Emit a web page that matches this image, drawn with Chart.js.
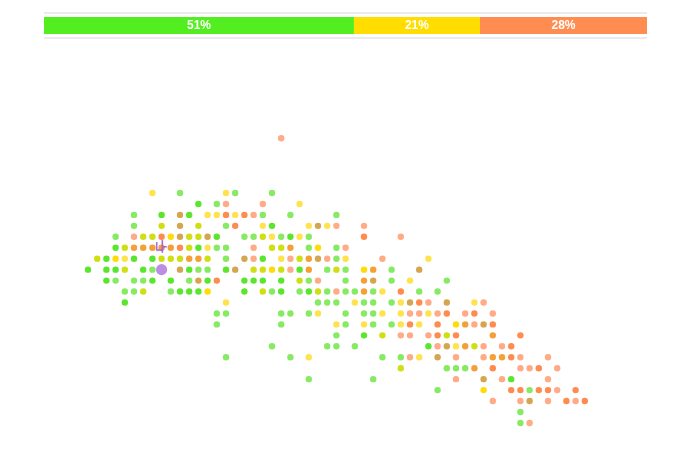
<!DOCTYPE html>
<html>
<head>
<meta charset="utf-8">
<script src="https://cdn.jsdelivr.net/npm/chart.js@4/dist/chart.umd.min.js"></script>
<style>
  html, body { margin: 0; padding: 0; background: #fff; }
  #wrap { position: relative; width: 673px; height: 454px; overflow: hidden; }
  #dots  { position: absolute; left: 0; top: 0; }
  #share { position: absolute; left: 44px; top: 10px; }
</style>
</head>
<body>
<div id="wrap">
  <canvas id="dots" width="673" height="454"></canvas>
  <canvas id="share" width="603" height="31"></canvas>
</div>
<script>
// ── DATA ────────────────────────────────────────────────────────────────────

// top share bar
const shareValues = [51.4, 20.9, 27.7];
const shareColors = ['#52ee1f', '#ffdd00', '#ff8c50'];

// dot grid: [row, [columns]] — row 0 is the top row of the main cluster
const brightGreen = [
  [1, [12]], [2, [8, 11]], [3, [20]], [4, [14, 22]], [5, [3, 12]], [6, [2, 5, 7, 19]],
  [7, [0, 2, 3, 6, 11, 15, 23]], [8, [2, 7, 9, 13, 17, 18, 19, 21]],
  [9, [10, 11, 12, 17, 21, 24]], [10, [4]], [13, [30]], [14, [37]], [17, [46]],
];
const lightGreen = [
  [0, [10, 16, 20]], [1, [14]], [2, [5, 19, 22, 27]], [3, [5, 15]], [4, [3, 17, 18, 21, 24]],
  [5, [14, 15, 24, 27]], [6, [15, 27]], [7, [7, 12, 13, 26, 28, 33]],
  [8, [3, 5, 6, 11, 24, 28, 33, 39]], [9, [4, 5, 9, 20, 23, 26, 28, 29, 31, 36, 38]],
  [10, [25, 26, 27, 30, 31, 33]], [11, [14, 15, 21, 22, 24, 28, 30, 31]],
  [12, [14, 21, 28, 31, 33]], [13, [27]], [14, [20, 26, 27, 29]], [15, [15, 22, 32, 34]],
  [16, [39, 40, 41]], [17, [24, 31]], [18, [38, 48]], [20, [47]], [21, [47]],
];
const brightYellow = [
  [4, [9]], [5, [25]], [6, [3]], [7, [20, 30]], [9, [13]], [12, [40]], [18, [43]],
];
const lightYellow = [
  [0, [7, 15]], [1, [23]], [2, [13, 14, 16]], [3, [19, 24, 26]], [4, [20, 23]], [5, [13]],
  [6, [4, 21, 28, 37]], [8, [35]], [9, [32]], [10, [15, 29, 34, 42]], [11, [25, 32, 34, 37]],
  [12, [27, 30, 34, 36]], [14, [40]], [15, [24, 36]],
];
const yellowGreen = [
  [3, [8, 12]], [4, [6, 7, 11, 12, 19]], [5, [4, 11, 20, 21]], [6, [1, 8, 9, 10, 13, 23]],
  [7, [4, 18, 19, 21, 27]], [8, [23]], [9, [6, 19, 25]], [13, [32, 39]], [14, [42]], [16, [34]],
];
const tan = [
  [2, [10]], [3, [10, 25]], [4, [10, 13]], [6, [17, 25]], [7, [10, 16, 36]], [8, [12, 31]],
  [10, [35, 39]], [12, [43]], [14, [39]], [15, [38]], [17, [43]], [19, [48]],
];
const brightOrange = [
  [2, [15, 17]], [3, [16]], [4, [8, 30]], [5, [10]], [8, [14]], [9, [34]], [10, [36]],
  [11, [39, 42]], [12, [35, 38, 44]], [13, [38, 40, 47]], [14, [46]], [15, [46]],
  [16, [44, 49]], [18, [46, 47, 49, 50, 53]], [19, [52, 54]],
];
const salmon = [
  [-5, [21]], [1, [15, 19]], [2, [18]], [3, [27, 30]], [4, [5, 34]], [5, [18, 28]],
  [6, [18, 22, 26, 32]], [7, [22]], [8, [25]], [9, [27]], [10, [37, 43]],
  [11, [35, 36, 38, 41, 44]], [12, [42]], [13, [34, 35, 37]], [14, [38, 43, 45]],
  [15, [35, 40, 43, 47, 50]], [16, [47, 48, 51]], [17, [40, 45, 50]], [18, [51]],
  [19, [44, 47, 50, 53]], [21, [48]],
];
const amber = [
  [5, [5, 6, 7, 8, 9, 22]], [6, [11, 12, 24]], [7, [24, 31]], [8, [30]], [9, [30]],
  [12, [41]], [13, [44]], [14, [41]], [15, [44, 45]], [16, [42]],
];

// highlighted item and its marker
const selectedDot = [{ x: 8, y: 7 }];
const markerPos   = [{ x: 7.99, y: 4.89 }];

// ── HELPERS ─────────────────────────────────────────────────────────────────

const toPoints = rows => rows.flatMap(([r, cols]) => cols.map(c => ({ x: c, y: r })));

const DOT_CLASSES = [
  { rows: brightGreen,  color: '#5ae62c' },
  { rows: lightGreen,   color: '#86ea62' },
  { rows: brightYellow, color: '#ffdc08' },
  { rows: lightYellow,  color: '#ffe34e' },
  { rows: yellowGreen,  color: '#cfdf14' },
  { rows: tan,          color: '#d4a650' },
  { rows: brightOrange, color: '#ff8b4e' },
  { rows: salmon,       color: '#ffab88' },
  { rows: amber,        color: '#f5a036' },
];

// small purple bracket glyph used as a point style
function makeMarker() {
  const c = document.createElement('canvas');
  c.width = 13; c.height = 15;
  const g = c.getContext('2d');
  g.strokeStyle = '#a262d8';
  g.lineWidth = 1.5;
  g.beginPath();
  g.moveTo(1.7, 3);   g.lineTo(1.7, 11); g.lineTo(6.7, 11);
  g.moveTo(7.3, 1);   g.lineTo(7.3, 13.7);
  g.moveTo(7.3, 7.7); g.lineTo(11.7, 7.7);
  g.stroke();
  return c;
}

// ── DOT CHART ───────────────────────────────────────────────────────────────

const dotSets = DOT_CLASSES.map(k => ({
  data: toPoints(k.rows),
  backgroundColor: k.color,
  borderWidth: 0,
  pointRadius: 3.2,
  pointHoverRadius: 3.2,
  order: 2,
}));

new Chart(document.getElementById('dots'), {
  type: 'scatter',
  data: {
    datasets: [
      ...dotSets,
      { data: selectedDot, backgroundColor: '#bb8de4', borderWidth: 0, pointRadius: 5.6, order: 1 },
      { data: markerPos, pointStyle: makeMarker(), pointRadius: 7, order: 0 },
    ],
  },
  options: {
    responsive: false,
    animation: false,
    events: [],
    layout: { padding: 0, autoPadding: false },
    plugins: { legend: { display: false }, tooltip: { enabled: false } },
    scales: {
      x: { display: false, min: -88 / 9.2, max: (673 - 88) / 9.2 },
      y: { display: false, reverse: true, min: -193 / 10.95, max: (454 - 193) / 10.95 },
    },
  },
});

// ── SHARE BAR ───────────────────────────────────────────────────────────────

const barLabels = {
  id: 'barLabels',
  afterDatasetsDraw(chart) {
    const ctx = chart.ctx;
    ctx.save();
    ctx.fillStyle = '#fff';
    ctx.font = 'bold 12px "Liberation Sans", Arial, sans-serif';
    ctx.textAlign = 'center';
    ctx.textBaseline = 'middle';
    chart.data.datasets.forEach((ds, i) => {
      const bar = chart.getDatasetMeta(i).data[0];
      const cx = (bar.x + bar.base) / 2;
      ctx.fillText(Math.round(ds.data[0]) + '%', cx, bar.y + 0.5);
    });
    ctx.restore();
  },
};

new Chart(document.getElementById('share'), {
  type: 'bar',
  data: {
    labels: ['share'],
    datasets: shareValues.map((v, i) => ({
      data: [v],
      backgroundColor: shareColors[i],
      borderWidth: 0,
      barPercentage: 0.68,
      categoryPercentage: 1,
    })),
  },
  options: {
    indexAxis: 'y',
    responsive: false,
    animation: false,
    events: [],
    layout: { padding: { top: 3, bottom: 3, left: 0, right: 0 } },
    plugins: { legend: { display: false }, tooltip: { enabled: false } },
    scales: {
      x: { display: false, stacked: true, min: 0, max: 100 },
      y: {
        stacked: true,
        ticks: { display: false },
        border: { display: false },
        grid: { offset: true, drawTicks: false, color: '#ebebeb', lineWidth: 2 },
      },
    },
  },
  plugins: [barLabels],
});
</script>
</body>
</html>
